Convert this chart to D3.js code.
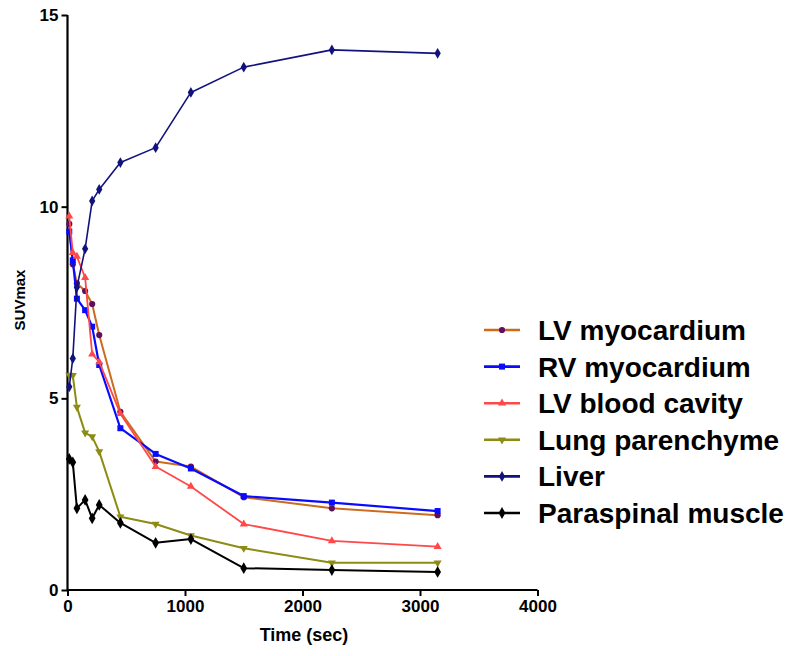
<!DOCTYPE html>
<html><head><meta charset="utf-8">
<script src="https://cdn.jsdelivr.net/npm/d3@7"></script>
<style>body{margin:0;background:#fff}svg{display:block}text{font-family:Arial,"Liberation Sans",sans-serif}</style>
</head><body><svg id="c" width="794" height="656"></svg>
<script>
const times = [15, 45, 80, 150, 210, 270, 450, 750, 1050, 1500, 2250, 3150];
const seriesNames = ["LV myocardium","RV myocardium","LV blood cavity","Lung parenchyme","Liver","Paraspinal muscle"];
const lvMyocardium = [9.55, 8.5, 8.0, 7.8, 7.46, 6.65, 4.65, 3.35, 3.22, 2.42, 2.13, 1.95];
const rvMyocardium = [9.35, 8.6, 7.6, 7.3, 6.87, 5.87, 4.22, 3.55, 3.17, 2.45, 2.28, 2.06];
const lvBloodCavity = [9.75, 8.8, 8.7, 8.15, 6.15, 5.95, 4.6, 3.22, 2.7, 1.72, 1.28, 1.13];
const lungParenchyme = [5.61, 5.6, 4.77, 4.1, 4.0, 3.61, 1.91, 1.72, 1.42, 1.09, 0.71, 0.71];
const liver = [5.3, 6.04, 7.9, 8.9, 10.15, 10.45, 11.15, 11.54, 12.98, 13.64, 14.09, 14.0];
const paraspinalMuscle = [3.42, 3.33, 2.13, 2.35, 1.87, 2.22, 1.75, 1.23, 1.33, 0.57, 0.52, 0.47];
const xTicks = [0, 1000, 2000, 3000, 4000];
const yTicks = [0, 5, 10, 15];

const styles = [
  {line:"#cc6a1e", fill:"#5e0f5e", sym:d3.symbolCircle, size:30, w:2},
  {line:"#0a0aff", fill:"#0a0aff", sym:d3.symbolSquare, size:36, w:2.2},
  {line:"#ff4848", fill:"#ff4848", sym:d3.symbolTriangle, size:28, w:1.8},
  {line:"#8c8c14", fill:"#8c8c14", sym:d3.symbolTriangle, size:28, w:2, rot:180},
  {line:"#12127e", fill:"#12127e", sym:d3.symbolDiamond, size:34, w:1.6},
  {line:"#000000", fill:"#000000", sym:d3.symbolDiamond, size:40, w:2}
];
const allSeries = [lvMyocardium, rvMyocardium, lvBloodCavity, lungParenchyme, liver, paraspinalMuscle];

const svg = d3.select("#c");
const x = d3.scaleLinear().domain([0,4000]).range([67.5,537.5]);
const y = d3.scaleLinear().domain([0,15]).range([590,15]);

const gx = svg.append("g").attr("transform","translate(0,590)")
  .call(d3.axisBottom(x).tickValues(xTicks).tickSize(6).tickPadding(4).tickFormat(d3.format("d")));
const gy = svg.append("g").attr("transform","translate(67.5,0)")
  .call(d3.axisLeft(y).tickValues(yTicks).tickSize(6).tickPadding(3).tickFormat(d3.format("d")));
[gx,gy].forEach(g=>{
  g.attr("font-size",null).attr("font-family",null);
  g.select(".domain").attr("stroke","#000").attr("stroke-width",2.2);
  g.selectAll(".tick line").attr("stroke","#000").attr("stroke-width",2);
  g.selectAll(".tick text").attr("fill","#000").style("font-size","17px").style("font-weight","bold");
});
gx.select(".domain").attr("d", `M${x(0)},0H${x(4000)}`);
gy.select(".domain").attr("d", `M0,${y(0)}V${y(15)}`);

svg.append("text").attr("x",304).attr("y",641).attr("text-anchor","middle")
  .style("font-size","18px").style("font-weight","bold").text("Time (sec)");
svg.append("text").attr("transform","translate(25,300) rotate(-90)").attr("text-anchor","middle")
  .style("font-size","15px").style("font-weight","bold").text("SUVmax");

const line = d3.line().x((d,i)=>x(times[i])).y(d=>y(d));
allSeries.forEach((vals,k)=>{
  const s = styles[k];
  const g = svg.append("g");
  g.append("path").datum(vals).attr("d",line).attr("fill","none")
    .attr("stroke",s.line).attr("stroke-width",s.w).attr("stroke-linejoin","round");
  g.selectAll("path.m").data(vals).join("path").attr("class","m")
    .attr("d",d3.symbol(s.sym,s.size))
    .attr("transform",(d,i)=>`translate(${x(times[i])},${y(d)})${s.rot?" rotate("+s.rot+")":""}`)
    .attr("fill",s.fill);
});

const leg = svg.append("g");
seriesNames.forEach((name,k)=>{
  const s = styles[k];
  const yy = 330 + k*36.6;
  leg.append("line").attr("x1",484).attr("x2",520).attr("y1",yy).attr("y2",yy)
    .attr("stroke",s.line).attr("stroke-width",2.6);
  leg.append("path").attr("d",d3.symbol(s.sym,s.size))
    .attr("transform",`translate(502,${yy})${s.rot?" rotate("+s.rot+")":""}`).attr("fill",s.fill);
  leg.append("text").attr("x",538).attr("y",yy+10).style("font-size","28px").style("font-weight","bold")
    .attr("fill","#000").text(name);
});
</script></body></html>
